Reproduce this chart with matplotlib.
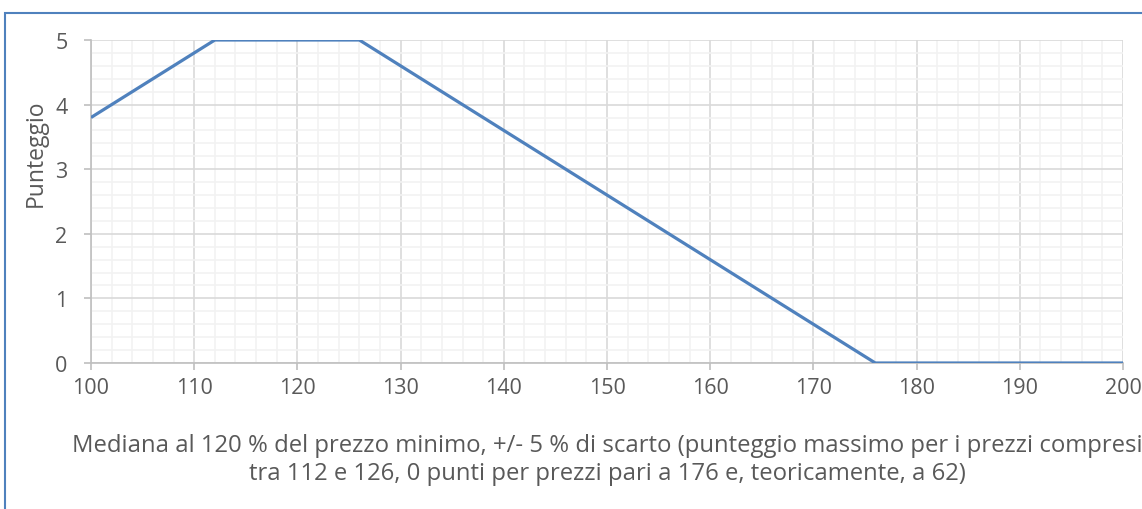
import matplotlib
matplotlib.use("Agg")
import matplotlib.pyplot as plt
from matplotlib.ticker import MultipleLocator
from matplotlib.patches import Rectangle

# Data: score as function of price
prezzi = [100, 112, 126, 176, 200]
punteggio = [3.8, 5, 5, 0, 0]

x_ticks = [100, 110, 120, 130, 140, 150, 160, 170, 180, 190, 200]
y_ticks = [0, 1, 2, 3, 4, 5]

x_label = ("Mediana al 120 % del prezzo minimo, +/- 5 % di scarto (punteggio massimo per i prezzi compresi\n"
           "tra 112 e 126, 0 punti per prezzi pari a 176 e, teoricamente, a 62)")
y_label = "Punteggio"

text_color = "#595959"
plt.rcParams["font.family"] = ["Open Sans", "DejaVu Sans"]

W, H = 1142, 510
fig = plt.figure(figsize=(W / 100, H / 100), dpi=100)
ax = fig.add_axes([91 / W, 1 - 364 / H, (1123 - 91) / W, (364 - 41) / H])

# outer chart border (only top and left visible)
fig.patches.append(Rectangle((4.5 / W, -0.1), 1.2, (H - 13.5) / H + 0.1,
                             transform=fig.transFigure, fill=False,
                             edgecolor="#4F81BD", linewidth=1.5))

ax.plot(prezzi, punteggio, color="#4F81BD", linewidth=2.3, solid_capstyle="butt", zorder=3)

ax.set_xlim(100, 200)
ax.set_ylim(0, 5)
ax.set_xticks(x_ticks)
ax.set_yticks(y_ticks)
ax.xaxis.set_minor_locator(MultipleLocator(2))
ax.yaxis.set_minor_locator(MultipleLocator(0.2))

ax.grid(which="minor", color="#F2F2F2", linewidth=1.2)
ax.grid(which="major", color="#D9D9D9", linewidth=1.2)
ax.set_axisbelow(True)

for side in ["top", "right"]:
    ax.spines[side].set_visible(False)
for side in ["left", "bottom"]:
    ax.spines[side].set_color("#BFBFBF")
    ax.spines[side].set_linewidth(1.2)

ax.tick_params(which="major", length=5, width=1.2, color="#BFBFBF",
               labelsize=15.5, labelcolor=text_color)
ax.tick_params(axis="x", pad=5)
ax.tick_params(axis="y", pad=12)
ax.tick_params(which="minor", length=0)

ax.set_xlabel(x_label, fontsize=17.2, color=text_color, labelpad=25, linespacing=1.25)
ax.set_ylabel(y_label, fontsize=16.5, color=text_color, labelpad=5)
ax.yaxis.label.set_y(0.652)  # title sits above centre, as in the original

fig.savefig("out.png", dpi=100)
